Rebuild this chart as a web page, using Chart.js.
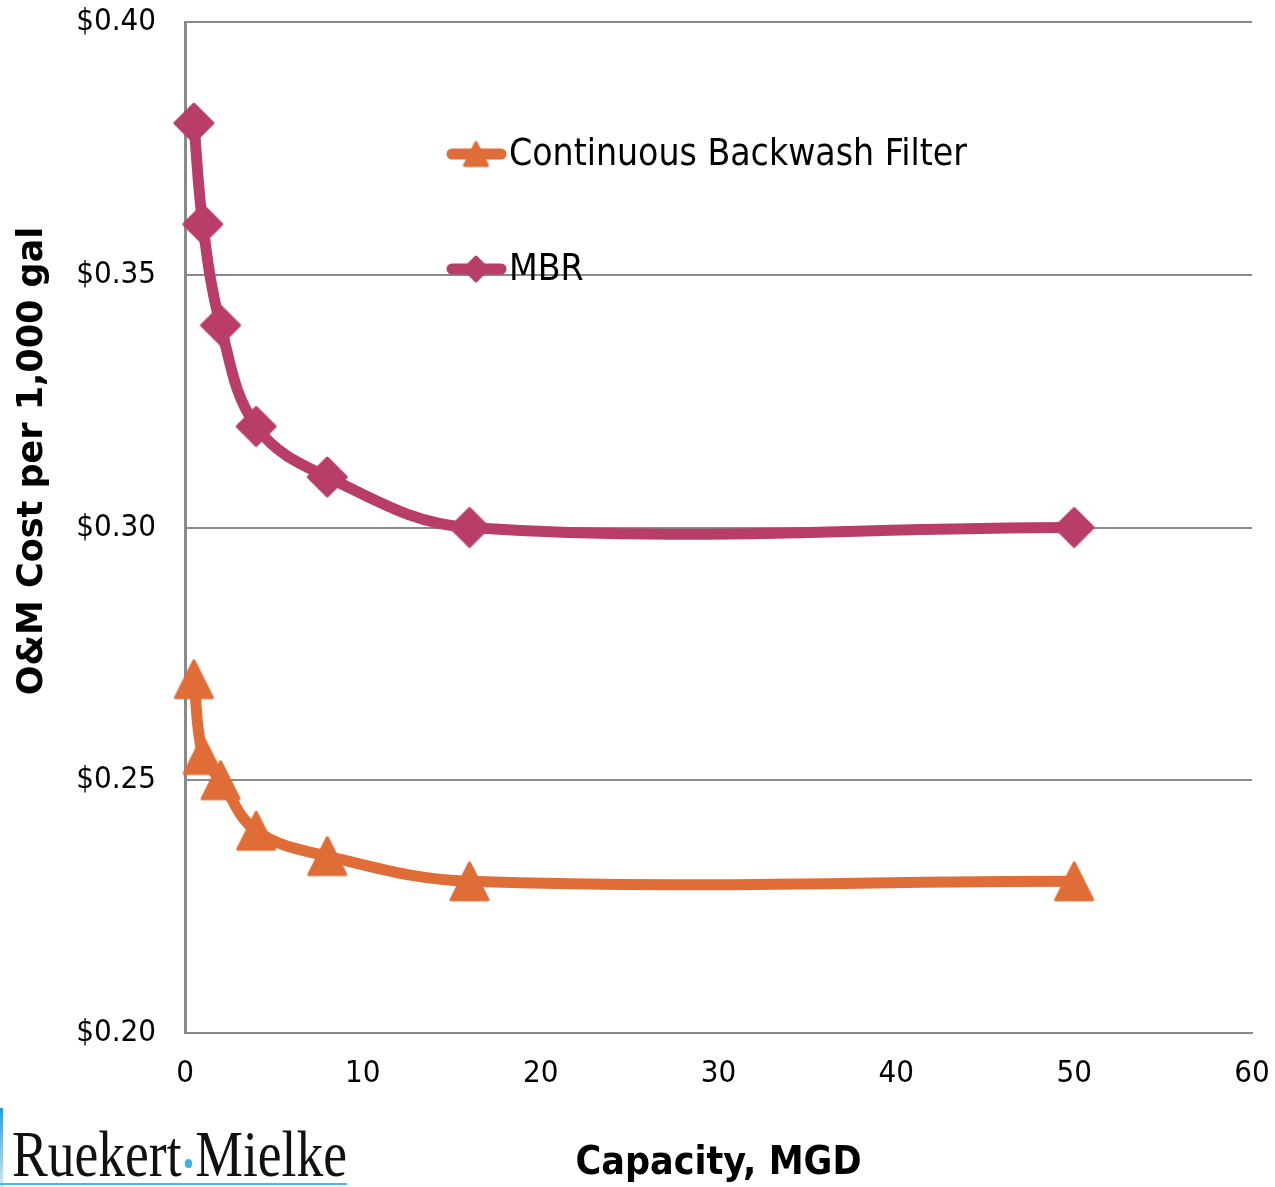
<!DOCTYPE html>
<html>
<head>
<meta charset="utf-8">
<script src="https://cdn.jsdelivr.net/npm/chart.js@4/dist/chart.umd.min.js"></script>
<style>
  body { margin: 0; background: #fff; }
  #wrap { position: relative; width: 1275px; height: 1187px; }
  #logo-bar { position: absolute; left: 0; top: 1108px; width: 3px; height: 79px; background: linear-gradient(#1f9fe0, #cdeaf8); }
  #logo-line { position: absolute; left: 0; top: 1183px; width: 347px; height: 2px; background: #4cb6ea; }
  #logo-text { position: absolute; left: 12px; top: 1121px; font-family: 'Liberation Serif', serif; font-size: 66px; line-height: 1; color: #111; white-space: nowrap; transform-origin: left top; }
  #logo-text .dot { display: inline-block; width: 9px; height: 9px; border-radius: 50%; background: #3bb4ea; margin: 0 4px; vertical-align: 8px; }
</style>
</head>
<body>
<div id="wrap">
  <canvas id="chart" width="1275" height="1187"></canvas>
  <div id="logo-bar"></div>
  <div id="logo-text">Ruekert<span class="dot"></span>Mielke</div>
  <div id="logo-line"></div>
</div>
<script>
const capacity = [0.5, 1, 2, 4, 8, 16, 50];
const cbfCost = [0.27, 0.255, 0.25, 0.24, 0.235, 0.23, 0.23];
const mbrCost = [0.38, 0.36, 0.34, 0.32, 0.31, 0.30, 0.30];
const xTicks = [0, 10, 20, 30, 40, 50, 60];
const yTicks = [0.20, 0.25, 0.30, 0.35, 0.40];

const orange = '#e06d37';
const magenta = '#b93d69';
const gridGrey = '#8a8a8a';
const condensed = "'DejaVu Sans Condensed', 'DejaVu Sans', sans-serif";
const yTitle = 'O&M Cost per 1,000 gal';

// fit the logo text to its width in the picture
const logo = document.getElementById('logo-text');
logo.style.transform = 'scaleX(' + (335 / logo.getBoundingClientRect().width) + ')';

function makeMarker(shape, color, size) {
  const c = document.createElement('canvas');
  c.width = c.height = size + 6;
  const g = c.getContext('2d');
  const m = c.width / 2, h = size / 2;
  g.beginPath();
  if (shape === 'diamond') {
    g.moveTo(m, m - h); g.lineTo(m + h, m); g.lineTo(m, m + h); g.lineTo(m - h, m);
  } else {
    g.moveTo(m, m - h); g.lineTo(m + h, m + h); g.lineTo(m - h, m + h);
  }
  g.closePath();
  g.fillStyle = color; g.strokeStyle = color;
  g.lineJoin = 'round'; g.lineWidth = 3;
  g.fill(); g.stroke();
  return c;
}

const triBig = makeMarker('triangle', orange, 37);
const diaBig = makeMarker('diamond', magenta, 38);
const triSmall = makeMarker('triangle', orange, 23);
const diaSmall = makeMarker('diamond', magenta, 24);

const legendRows = [
  { y: 154, marker: triSmall },
  { y: 269, marker: diaSmall }
];

const insideLegend = {
  id: 'insideLegend',
  afterDraw(chart) {
    const ctx = chart.ctx;
    ctx.save();
    ctx.font = '30px ' + condensed;
    const size = 30 * 458 / ctx.measureText(chart.data.datasets[0].label).width;
    chart.data.datasets.forEach((ds, i) => {
      const row = legendRows[i];
      ctx.strokeStyle = ds.borderColor;
      ctx.lineWidth = 11;
      ctx.lineCap = 'round';
      ctx.beginPath();
      ctx.moveTo(452, row.y);
      ctx.lineTo(501, row.y);
      ctx.stroke();
      ctx.drawImage(row.marker, 476 - row.marker.width / 2, row.y - row.marker.height / 2);
      ctx.fillStyle = '#000';
      ctx.font = size + 'px ' + condensed;
      ctx.textBaseline = 'middle';
      ctx.textAlign = 'left';
      ctx.fillText(ds.label, 509, row.y + 1);
    });

    // y axis title, placed as in the picture
    ctx.translate(33, 461);
    ctx.rotate(-Math.PI / 2);
    ctx.font = "bold 35px 'DejaVu Sans', sans-serif";
    ctx.textAlign = 'center';
    ctx.textBaseline = 'middle';
    ctx.fillStyle = '#000';
    ctx.fillText(yTitle, 0, 0);
    ctx.restore();
  }
};

new Chart(document.getElementById('chart'), {
  type: 'line',
  data: {
    datasets: [
      {
        label: 'Continuous Backwash Filter',
        data: capacity.map((x, i) => ({ x: x, y: cbfCost[i] })),
        borderColor: orange,
        backgroundColor: orange,
        borderWidth: 11,
        tension: 0.38,
        pointStyle: triBig,
        clip: false
      },
      {
        label: 'MBR',
        data: capacity.map((x, i) => ({ x: x, y: mbrCost[i] })),
        borderColor: magenta,
        backgroundColor: magenta,
        borderWidth: 11,
        tension: 0.38,
        pointStyle: diaBig,
        clip: false
      }
    ]
  },
  options: {
    responsive: false,
    devicePixelRatio: 1,
    animation: false,
    events: [],
    layout: { autoPadding: false, padding: { top: 22, right: 23, left: 0, bottom: 0 } },
    plugins: { legend: { display: false }, tooltip: { enabled: false } },
    scales: {
      x: {
        type: 'linear',
        min: xTicks[0],
        max: xTicks[xTicks.length - 1],
        afterBuildTicks(scale) { scale.ticks = xTicks.map(v => ({ value: v })); },
        afterFit(scale) {
          scale.height = 154;
          scale.paddingLeft = 0;
          scale.paddingRight = 0;
        },
        ticks: { color: '#000', font: { size: 31, family: condensed }, padding: 22, maxRotation: 0 },
        grid: { display: false, drawTicks: false },
        border: { display: true, color: gridGrey, width: 2 },
        title: {
          display: true,
          text: 'Capacity, MGD',
          color: '#000',
          font: { size: 39, weight: 'bold', family: condensed },
          padding: { top: 0, bottom: 0 }
        }
      },
      y: {
        min: yTicks[0],
        max: yTicks[yTicks.length - 1],
        afterBuildTicks(scale) { scale.ticks = yTicks.map(v => ({ value: v })); },
        afterFit(scale) {
          scale.width = 185;
          scale.paddingTop = 0;
          scale.paddingBottom = 0;
        },
        ticks: {
          color: '#000',
          font: { size: 31, family: condensed },
          padding: 29,
          callback: v => '$' + v.toFixed(2)
        },
        grid: { color: gridGrey, lineWidth: 2, drawTicks: false },
        border: { display: true, color: gridGrey, width: 3 },
        title: { display: false }
      }
    }
  },
  plugins: [insideLegend]
});
</script>
</body>
</html>
